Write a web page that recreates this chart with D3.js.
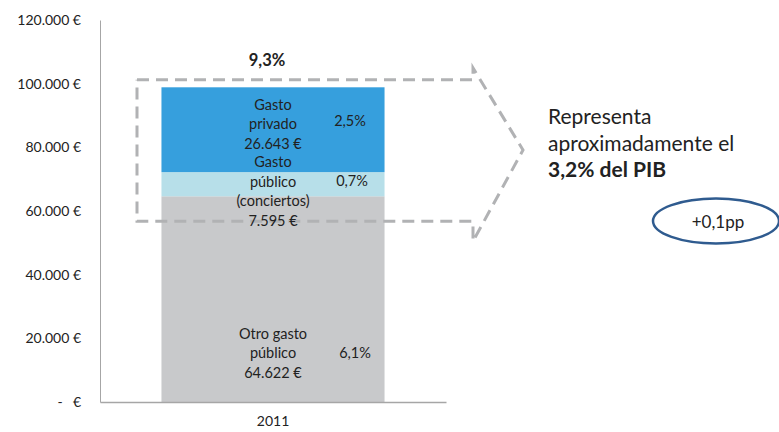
<!DOCTYPE html>
<html><head><meta charset="utf-8">
<script src="https://cdn.jsdelivr.net/npm/d3@7"></script>
<style>body{margin:0;background:#fff}svg{display:block}text{font-family:Lato,"Open Sans",sans-serif}</style>
</head><body>
<svg id="c" width="779" height="432"></svg>
<script>
const categories = ["2011"];
const seriesNames = ["Otro gasto público", "Gasto público (conciertos)", "Gasto privado"];
const seriesValues = [64622, 7595, 26643];
const seriesPct = ["6,1%", "0,7%", "2,5%"];
const seriesLabelLines = [["Otro gasto", "público", "64.622 €"], ["Gasto", "público", "(conciertos)", "7.595 €"], ["Gasto", "privado", "26.643 €"]];
const totalPct = "9,3%";
const yTicks = [0, 20000, 40000, 60000, 80000, 100000, 120000];
const noteLines = ["Representa", "aproximadamente el", "3,2% del PIB"];
const deltaLabel = "+0,1pp";
const colors = ["#c8c9cb", "#b7dfe9", "#369fdd"];

(function () {
const svg = d3.select("#c");
const x = d3.scaleBand().domain(categories).range([100, 446]).padding(0.216);
const y = d3.scaleLinear().domain([0, 120000]).range([402, 20]);

const row = {cat: categories[0]};
seriesNames.forEach((s, i) => row[s] = seriesValues[i]);
const stack = d3.stack().keys(seriesNames)([row]);

svg.append("g").selectAll("rect").data(stack).join("rect")
  .attr("x", x(categories[0])).attr("width", x.bandwidth())
  .attr("y", d => y(d[0][1])).attr("height", d => y(d[0][0]) - y(d[0][1]))
  .attr("fill", (d, i) => colors[i]);

const FS = 14, BFS = 14.5;
const fmt = v => v === 0 ? "" : d3.format(",")(v).replace(/,/g, ".") + " €";
const yAxis = svg.append("g").attr("transform", "translate(100,0)")
  .call(d3.axisLeft(y).tickValues(yTicks).tickSize(0).tickPadding(19).tickFormat(fmt));
yAxis.select(".domain").attr("stroke", "#a6a6a6").attr("stroke-width", 1);
yAxis.selectAll("text").attr("font-size", FS).attr("fill", "#222");
yAxis.append("text").attr("x", -40).attr("y", y(0) + 5).attr("text-anchor", "middle")
  .attr("font-size", FS).attr("fill", "#222").text("-");
yAxis.append("text").attr("x", -19).attr("y", y(0) + 5).attr("text-anchor", "end")
  .attr("font-size", FS).attr("fill", "#222").text("€");

const xAxis = svg.append("g").attr("transform", `translate(0,${y(0)})`)
  .call(d3.axisBottom(x).tickSize(0).tickPadding(14));
xAxis.select(".domain").attr("stroke", "#a6a6a6").attr("stroke-width", 1.3);
xAxis.selectAll("text").attr("font-size", FS).attr("fill", "#222");

const yTop = y(d3.sum(seriesValues)) - 7.5, yBot = y(seriesValues[0]) + 25;
const L = 137, R = 473, tip = 523;
const arrowPts = [[L, yTop], [R, yTop], [R, yTop - 12], [tip, (yTop + yBot) / 2 - 0.5], [R, yBot + 20], [R, yBot], [L, yBot], [L, yTop]];
svg.append("path").attr("d", d3.line()(arrowPts)).attr("fill", "none")
  .attr("stroke", "#b1b2b4").attr("stroke-width", 3).attr("stroke-dasharray", "12,7");

const cx = x(categories[0]) + x.bandwidth() / 2;
const labelCenters = [353, 191.5, 124];
const pctPos = [[355, 353], [352, 181], [350, 121]];
const lh = 19.5;
seriesLabelLines.forEach((lines, i) => {
  const t = svg.append("text").attr("text-anchor", "middle").attr("font-size", BFS).attr("fill", "#222");
  const y0 = labelCenters[i] - (lines.length - 1) * lh / 2;
  lines.forEach((ln, j) => t.append("tspan").attr("x", cx).attr("y", y0 + j * lh + 5).text(ln));
  svg.append("text").attr("x", pctPos[i][0]).attr("y", pctPos[i][1] + 5).attr("text-anchor", "middle")
    .attr("font-size", BFS).attr("fill", "#222").text(seriesPct[i]);
});

svg.append("text").attr("x", 267).attr("y", 66).attr("text-anchor", "middle")
  .attr("font-size", 16.5).attr("font-weight", "bold").attr("fill", "#222").text(totalPct);

noteLines.forEach((ln, j) => {
  svg.append("text").attr("x", 548).attr("y", 124.3 + j * 26.5)
    .attr("font-size", 21).attr("font-weight", j === 2 ? "bold" : "normal").attr("fill", "#222").text(ln);
});

svg.append("ellipse").attr("cx", 716).attr("cy", 221).attr("rx", 63).attr("ry", 22.5)
  .attr("fill", "none").attr("stroke", "#2f5b8f").attr("stroke-width", 2.5);
svg.append("text").attr("x", 718).attr("y", 228).attr("text-anchor", "middle")
  .attr("font-size", 17).attr("fill", "#222").text(deltaLabel);
})();
</script>
</body></html>
